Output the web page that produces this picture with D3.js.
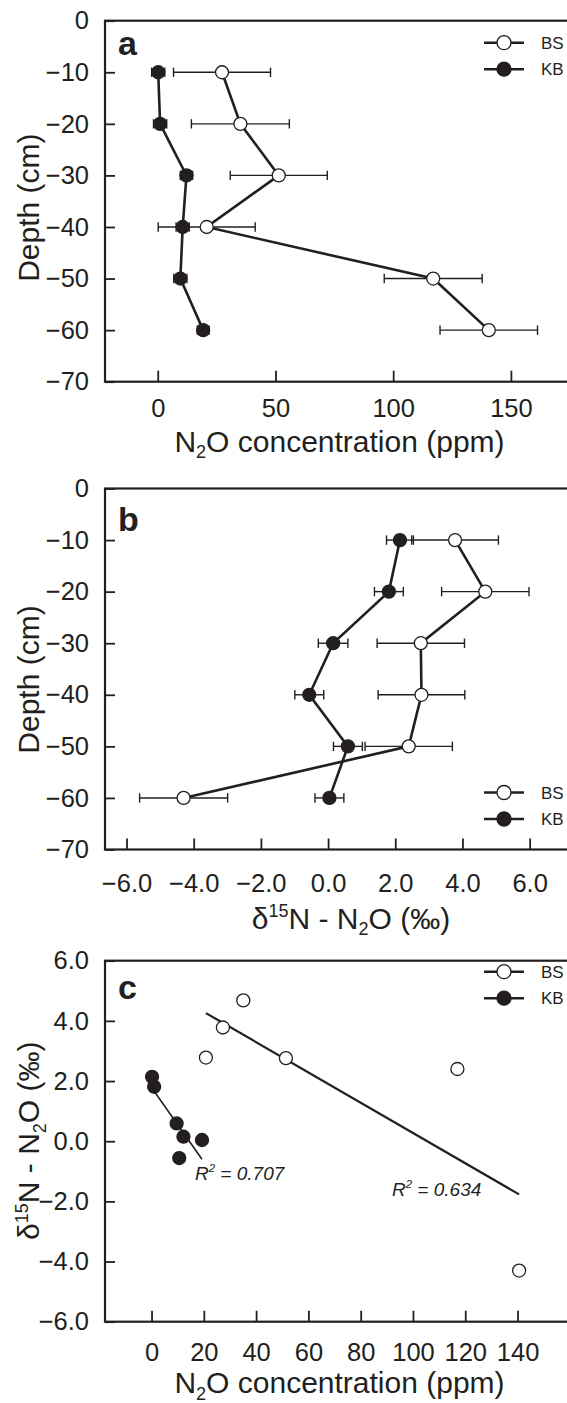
<!DOCTYPE html>
<html>
<head>
<meta charset="utf-8">
<script src="https://cdn.jsdelivr.net/npm/d3@7"></script>
<style>
  body { margin: 0; background: #fff; }
  svg { display: block; font-family: "Liberation Sans", Arial, sans-serif; }
</style>
</head>
<body>
<svg id="chart" width="567" height="1403"></svg>
<script>
// measurements per depth (cm), mean and error
const depths = [-10, -20, -30, -40, -50, -60];
const bsConc = [27.3, 35.1, 51.4, 20.8, 117.0, 140.6];
const bsConcErr = [20.6, 20.8, 20.6, 20.6, 20.8, 20.7];
const kbConc = [0.2, 1.0, 12.2, 10.6, 9.6, 19.3];
const kbConcErr = [2.8, 2.8, 2.6, 2.8, 2.8, 2.5];
const bsDelta = [3.78, 4.68, 2.76, 2.78, 2.40, -4.30];
const bsDeltaErr = [1.29, 1.30, 1.30, 1.29, 1.30, 1.31];
const kbDelta = [2.14, 1.81, 0.15, -0.56, 0.59, 0.04];
const kbDeltaErr = [0.40, 0.43, 0.44, 0.43, 0.43, 0.43];

const seriesNames = ['BS', 'KB'];
const r2Labels = ['0.707', '0.634'];

// tick labels
const depthTicks = [0, -10, -20, -30, -40, -50, -60, -70];
const concTicksA = [0, 50, 100, 150];
const deltaTicksB = [-6, -4, -2, 0, 2, 4, 6];
const concTicksC = [0, 20, 40, 60, 80, 100, 120, 140];
const deltaTicksC = [6, 4, 2, 0, -2, -4, -6];

const ink = '#231f20';
const left = 105, right = 574, frameH = 361;
const svg = d3.select('#chart');

function addTitle(sel, parts, size) {
  // parts: [text, 'sub'|'sup'|null, extra dy]
  parts.forEach(p => {
    const t = sel.append('tspan').text(p[0]);
    if (p[1] === 'sub') t.attr('font-size', size * 0.6).attr('dy', size * 0.22);
    if (p[1] === 'sup') t.attr('font-size', size * 0.6).attr('dy', -size * 0.38);
    if (p[2]) t.attr('dy', p[2]);
  });
}

function panel(top, xDomain, yDomain, xTicks, xFmt, yTicks, yFmt, pad) {
  const g = svg.append('g').attr('transform', `translate(0,${top})`);
  const x = d3.scaleLinear().domain(xDomain).range([left, right]);
  const y = d3.scaleLinear().domain(yDomain).range([0, frameH]);

  const xa = g.append('g')
    .attr('transform', `translate(0,${frameH})`)
    .call(d3.axisBottom(x).tickValues(xTicks).tickFormat(xFmt)
      .tickSizeInner(-11).tickSizeOuter(0).tickPadding(pad));
  const ya = g.append('g')
    .attr('transform', `translate(${left},0)`)
    .call(d3.axisLeft(y).tickValues(yTicks).tickFormat(yFmt)
      .tickSizeInner(-10).tickSizeOuter(0).tickPadding(16));
  [xa, ya].forEach(a => {
    a.select('.domain').remove();
    a.attr('font-family', null).attr('font-size', 25.5);
    a.selectAll('line').attr('stroke', ink).attr('stroke-width', 1.8);
    a.selectAll('text').attr('fill', ink);
  });

  g.append('rect')
    .attr('x', left).attr('y', 0)
    .attr('width', right - left).attr('height', frameH)
    .attr('fill', 'none').attr('stroke', ink).attr('stroke-width', 2.2);
  return { g, x, y };
}

function letter(p, txt, yPos) {
  p.g.append('text').attr('x', 118).attr('y', yPos)
    .attr('font-size', 34).attr('font-weight', 'bold').attr('fill', ink).text(txt);
}

function legend(p, yPos) {
  seriesNames.forEach((name, i) => {
    const ly = yPos + i * 26.5;
    p.g.append('line').attr('x1', 484).attr('x2', 524).attr('y1', ly).attr('y2', ly)
      .attr('stroke', ink).attr('stroke-width', 2.4);
    p.g.append('circle').attr('cx', 504).attr('cy', ly).attr('r', 7)
      .attr('fill', i === 0 ? '#fff' : ink).attr('stroke', ink).attr('stroke-width', 1.3);
    p.g.append('text').attr('x', 541).attr('y', ly + 6)
      .attr('font-size', 17).attr('fill', ink).text(name);
  });
}

function profile(p, vals, errs, filled) {
  const pts = depths.map((d, i) => ({ d, v: vals[i], e: errs[i] }));
  const eb = p.g.append('g').attr('stroke', ink).attr('stroke-width', 1.4);
  pts.forEach(o => {
    const yy = p.y(o.d);
    eb.append('line').attr('x1', p.x(o.v - o.e)).attr('x2', p.x(o.v + o.e)).attr('y1', yy).attr('y2', yy);
    [o.v - o.e, o.v + o.e].forEach(c => {
      eb.append('line').attr('x1', p.x(c)).attr('x2', p.x(c)).attr('y1', yy - 4.7).attr('y2', yy + 4.7);
    });
  });
  p.g.append('path').datum(pts)
    .attr('d', d3.line().x(o => p.x(o.v)).y(o => p.y(o.d)))
    .attr('fill', 'none').attr('stroke', ink).attr('stroke-width', 2.6);
  p.g.selectAll(null).data(pts).enter().append('circle')
    .attr('cx', o => p.x(o.v)).attr('cy', o => p.y(o.d)).attr('r', 6.5)
    .attr('fill', filled ? ink : '#fff').attr('stroke', ink).attr('stroke-width', 1.3);
}

function depthTitle(p, cy) {
  p.g.append('text').attr('transform', `translate(39,${cy}) rotate(-90)`)
    .attr('text-anchor', 'middle').attr('font-size', 30).attr('fill', ink).text('Depth (cm)');
}

function concTitle(p, yPos) {
  const t = p.g.append('text').attr('x', 339.5).attr('y', yPos)
    .attr('text-anchor', 'middle').attr('font-size', 30).attr('fill', ink);
  addTitle(t, [['N'], ['2', 'sub'], ['O concentration (ppm)', null, -30 * 0.22]], 30);
}

function deltaParts() {
  return [['\u03B4'], ['15', 'sup'], ['N - N', null, 30 * 0.38], ['2', 'sub'], ['O (\u2030)', null, -30 * 0.22]];
}

// ---- panel a: N2O concentration profile
const pa = panel(20.7, [-22.4, 176.8], [0, -70], concTicksA, d3.format('d'), depthTicks, d3.format('d'), 17);
profile(pa, bsConc, bsConcErr, false);
profile(pa, kbConc, kbConcErr, true);
letter(pa, 'a', 34.5);
legend(pa, 22);
depthTitle(pa, 187);
concTitle(pa, 431);

// ---- panel b: d15N profile
const pb = panel(488.5, [-6.64, 7.32], [0, -70], deltaTicksB, d3.format('.1f'), depthTicks, d3.format('d'), 24);
profile(pb, bsDelta, bsDeltaErr, false);
profile(pb, kbDelta, kbDeltaErr, true);
letter(pb, 'b', 42);
legend(pb, 304);
depthTitle(pb, 191);
const tb = pb.g.append('text').attr('x', 351).attr('y', 440)
  .attr('text-anchor', 'middle').attr('font-size', 30).attr('fill', ink);
addTitle(tb, deltaParts(), 30);

// ---- panel c: d15N vs concentration
const pc = panel(960.7, [-17.8, 161.6], [6, -6], concTicksC, d3.format('d'), deltaTicksC, d3.format('.1f'), 21);
function linreg(xs, ys) {
  const mx = d3.mean(xs), my = d3.mean(ys);
  const sxy = d3.sum(xs, (v, i) => (v - mx) * (ys[i] - my));
  const sxx = d3.sum(xs, v => (v - mx) ** 2);
  const b = sxy / sxx;
  return { b, a: my - b * mx };
}
[[kbConc, kbDelta, 1.6], [bsConc, bsDelta, 2.2]].forEach(([xs, ys, w]) => {
  const r = linreg(xs, ys);
  const ext = d3.extent(xs);
  pc.g.append('line')
    .attr('x1', pc.x(ext[0])).attr('y1', pc.y(r.a + r.b * ext[0]))
    .attr('x2', pc.x(ext[1])).attr('y2', pc.y(r.a + r.b * ext[1]))
    .attr('stroke', ink).attr('stroke-width', w);
});
[[bsConc, bsDelta, false], [kbConc, kbDelta, true]].forEach(([xs, ys, filled]) => {
  pc.g.selectAll(null).data(xs).enter().append('circle')
    .attr('cx', d => pc.x(d)).attr('cy', (d, i) => pc.y(ys[i])).attr('r', 6.5)
    .attr('fill', filled ? ink : '#fff').attr('stroke', ink).attr('stroke-width', 1.3);
});
[[195, 219], [392, 235]].forEach(([lx, ly], i) => {
  const t = pc.g.append('text').attr('x', lx).attr('y', ly)
    .attr('font-size', 19).attr('font-style', 'italic').attr('fill', ink);
  addTitle(t, [['R'], ['2', 'sup'], [' = ' + r2Labels[i], null, 19 * 0.38]], 19);
});
letter(pc, 'c', 38);
legend(pc, 11);
concTitle(pc, 432.5);
const tc = pc.g.append('text').attr('transform', 'translate(39,180) rotate(-90)')
  .attr('text-anchor', 'middle').attr('font-size', 30).attr('fill', ink);
addTitle(tc, deltaParts(), 30);
</script>
</body>
</html>
